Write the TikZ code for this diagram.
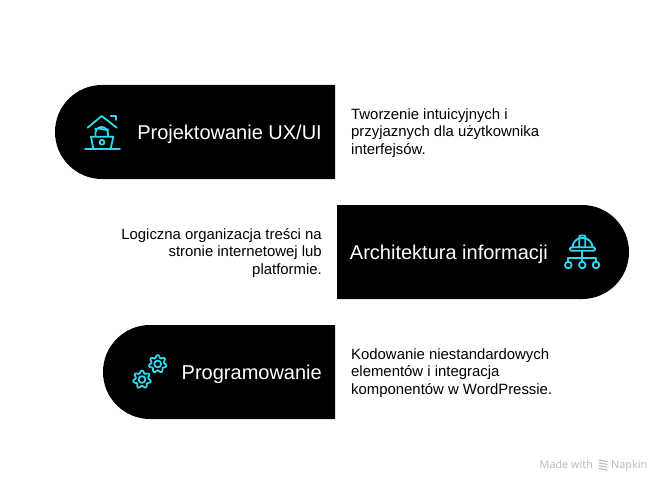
\documentclass[tikz,border=0pt]{standalone}
\usepackage{fontspec}
\setmainfont{Liberation Sans}
\newfontfamily\footfont{Noto Sans}
\definecolor{iconcyan}{HTML}{2BD9F0}
\definecolor{footgray}{HTML}{BDBDBD}
\tikzset{
    iconline/.style={draw=iconcyan,line width=1.8pt,line cap=round,line join=round},
    pilltitle/.style={text=white,inner sep=0pt,font=\fontsize{20}{24}\selectfont},
    sidetext/.style={text=black,inner sep=0pt,font=\fontsize{14.9}{17.5}\selectfont}
}
\begin{document}
\begin{tikzpicture}[line cap=round,line join=round,x=1pt,y=-1pt]
    \useasboundingbox (0,0) rectangle (672,492);
    \fill[white] (0,0) rectangle (672,492);
    \fill[black] (335,85) -- (102,85) arc[start angle=270,end angle=90,radius=47] -- (335,179) -- cycle;
    \fill[black] (337,205) -- (582,205) arc[start angle=270,end angle=450,radius=47] -- (337,299) -- cycle;
    \fill[black] (335,325) -- (150,325) arc[start angle=270,end angle=90,radius=47] -- (335,419) -- cycle;
    \node [pilltitle,anchor=base east] (titleux) at (322,140) {Projektowanie UX/UI};
    \node [pilltitle,anchor=base east] (titlearch) at (548,259) {Architektura informacji};
    \node [pilltitle,anchor=base east] (titleprog) at (322,379) {Programowanie};
    \node [sidetext,anchor=west,align=left] (textux) at (351,133) {Tworzenie intuicyjnych i\\przyjaznych dla użytkownika\\interfejsów.};
    \node [sidetext,anchor=east,align=right] (textarch) at (322,253) {Logiczna organizacja treści na\\stronie internetowej lub\\platformie.};
    \node [sidetext,anchor=west,align=left] (textprog) at (351,373) {Kodowanie niestandardowych\\elementów i integracja\\komponentów w WordPressie.};
    \draw[iconline] (87.7,127.7) -- (101.7,116) -- (116.7,127.7);
    \draw[iconline] (110.7,115.7) -- (115.7,115.7) -- (115.7,120);
    \draw[iconline] (95.5,136) .. controls (93.5,124) and (109.5,124) .. (108,136);
    \draw[iconline] (95,129) .. controls (100,127) and (104,131) .. (108.5,129.5);
    \draw[iconline] (91,136.7) -- (113.3,136.7) -- (110.7,148.7);
    \draw[iconline] (91,136.7) -- (93.3,148.7);
    \draw[iconline] (85,148.7) -- (120,148.7);
    \draw[iconline] (102,142.3) circle (2.4);
    \draw[iconline,rounded corners=1.2pt] (570,247.3) rectangle (595,250.7);
    \draw[iconline] (572.5,247.3) arc[start angle=180,end angle=360,x radius=10,y radius=9.5];
    \draw[iconline,rounded corners=1pt] (579.3,247.3) -- (579.3,235.5) -- (585.3,235.5) -- (585.3,247.3);
    \draw[iconline] (582.3,250.7) -- (582.3,261.5);
    \draw[iconline] (568.3,261.5) -- (568.3,258.3) -- (596,258.3) -- (596,261.5);
    \foreach \x in {568.3,582.3,596}
    \draw[iconline] (\x,265) circle (3.3);
    \foreach \cx/\cy in {142/379.5,157.7/364} {
        \draw[iconline,shift={(\cx,\cy)}] plot[domain=0:360,samples=85,smooth] (\x:{7.6+1.3*sin(7*\x)}) -- cycle;
        \draw[iconline,shift={(\cx,\cy)}] (0,0) circle (3.4);
    }
    \node [anchor=base west,inner sep=0pt,text=footgray,font=\footfont\fontsize{10.8}{13}\selectfont] (footmade) at (539.5,468) {Made with};
    \node [anchor=base west,inner sep=0pt,text=footgray,font=\footfont\fontsize{10.8}{13}\selectfont] (footnapkin) at (611,468) {Napkin};
    \foreach \y in {460,462.8,465.6,468.4}
    \draw[footgray,line width=1.1pt] (599,\y) -- (607,\y+1.6);
\end{tikzpicture}
\end{document}
